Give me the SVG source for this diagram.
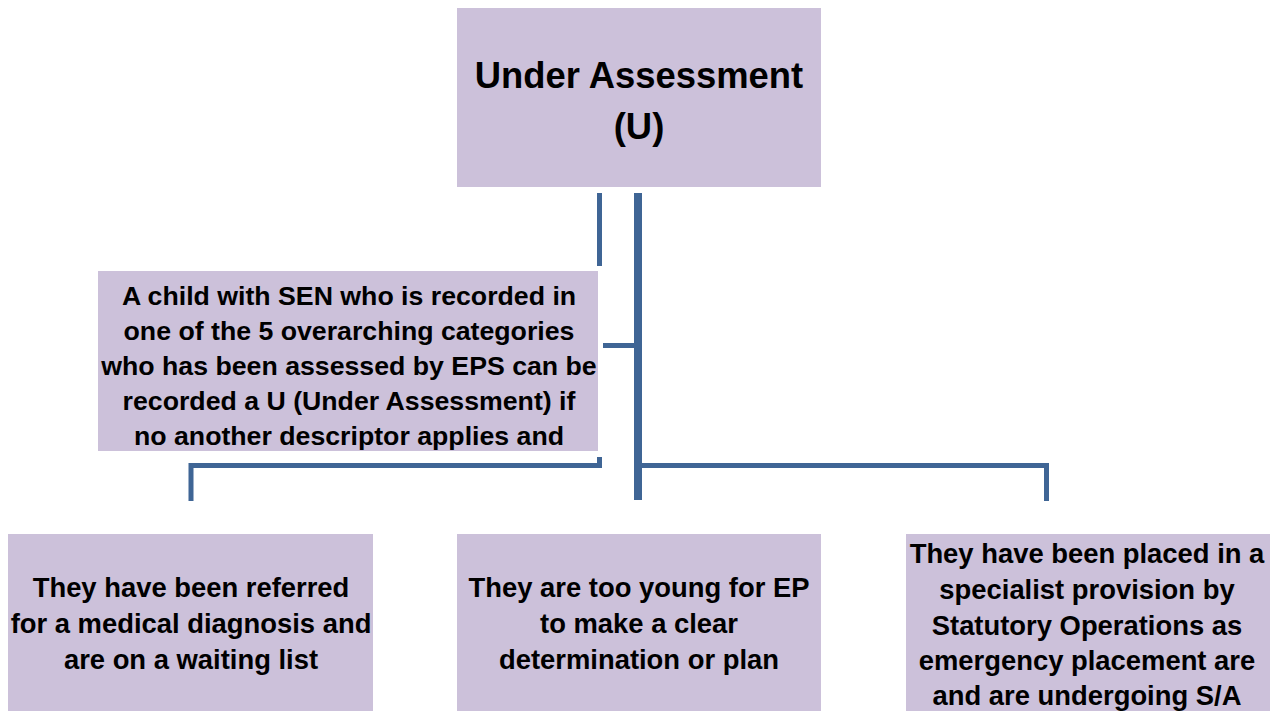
<svg xmlns="http://www.w3.org/2000/svg" width="1280" height="711" viewBox="0 0 1280 711">
<style>
.box{fill:#ccc1da;}
.t{font-family:"Liberation Sans",Arial,sans-serif;font-weight:bold;fill:#000;text-anchor:middle;}
.m{font-size:26.7px;}
.s{font-size:27.4px;}
.big{font-size:36.4px;}
.c{fill:none;stroke:#3f6595;stroke-linejoin:miter;}
</style>
<rect width="1280" height="711" fill="#fff"/>
<g id="connectors">
<path class="c" d="M599.5,193 V266" stroke-width="5"/>
<path class="c" d="M638,193 V500" stroke-width="8"/>
<path class="c" d="M603,345.5 H638" stroke-width="5"/>
<path class="c" d="M599.5,457 V465.5 H191 V501" stroke-width="5"/>
<path class="c" d="M638,465.5 H1046.5 V501" stroke-width="5"/>
</g>
<g id="top">
<rect class="box" x="457" y="8" width="364" height="179"/>
<text class="t big" x="639" y="88">Under Assessment</text>
<text class="t big" x="639" y="139">(U)</text>
</g>
<g id="middle">
<rect class="box" x="98" y="271" width="500" height="180"/>
<text class="t m" x="349" y="305">A child with SEN who is recorded in</text>
<text class="t m" x="349" y="340">one of the 5 overarching categories</text>
<text class="t m" x="349" y="375">who has been assessed by EPS can be</text>
<text class="t m" x="349" y="410">recorded a U (Under Assessment) if</text>
<text class="t m" x="349" y="445">no another descriptor applies and</text>
</g>
<g id="left">
<rect class="box" x="8" y="534" width="365" height="177"/>
<text class="t s" x="191" y="597">They have been referred</text>
<text class="t s" x="191" y="633">for a medical diagnosis and</text>
<text class="t s" x="191" y="669">are on a waiting list</text>
</g>
<g id="center">
<rect class="box" x="457" y="534" width="364" height="177"/>
<text class="t s" x="639" y="597">They are too young for EP</text>
<text class="t s" x="639" y="633">to make a clear</text>
<text class="t s" x="639" y="669">determination or plan</text>
</g>
<g id="right">
<rect class="box" x="906" y="534" width="364" height="177"/>
<text class="t s" x="1087" y="563">They have been placed in a</text>
<text class="t s" x="1087" y="599">specialist provision by</text>
<text class="t s" x="1087" y="635">Statutory Operations as</text>
<text class="t s" x="1087" y="670">emergency placement are</text>
<text class="t s" x="1087" y="705">and are undergoing S/A</text>
</g>
</svg>
